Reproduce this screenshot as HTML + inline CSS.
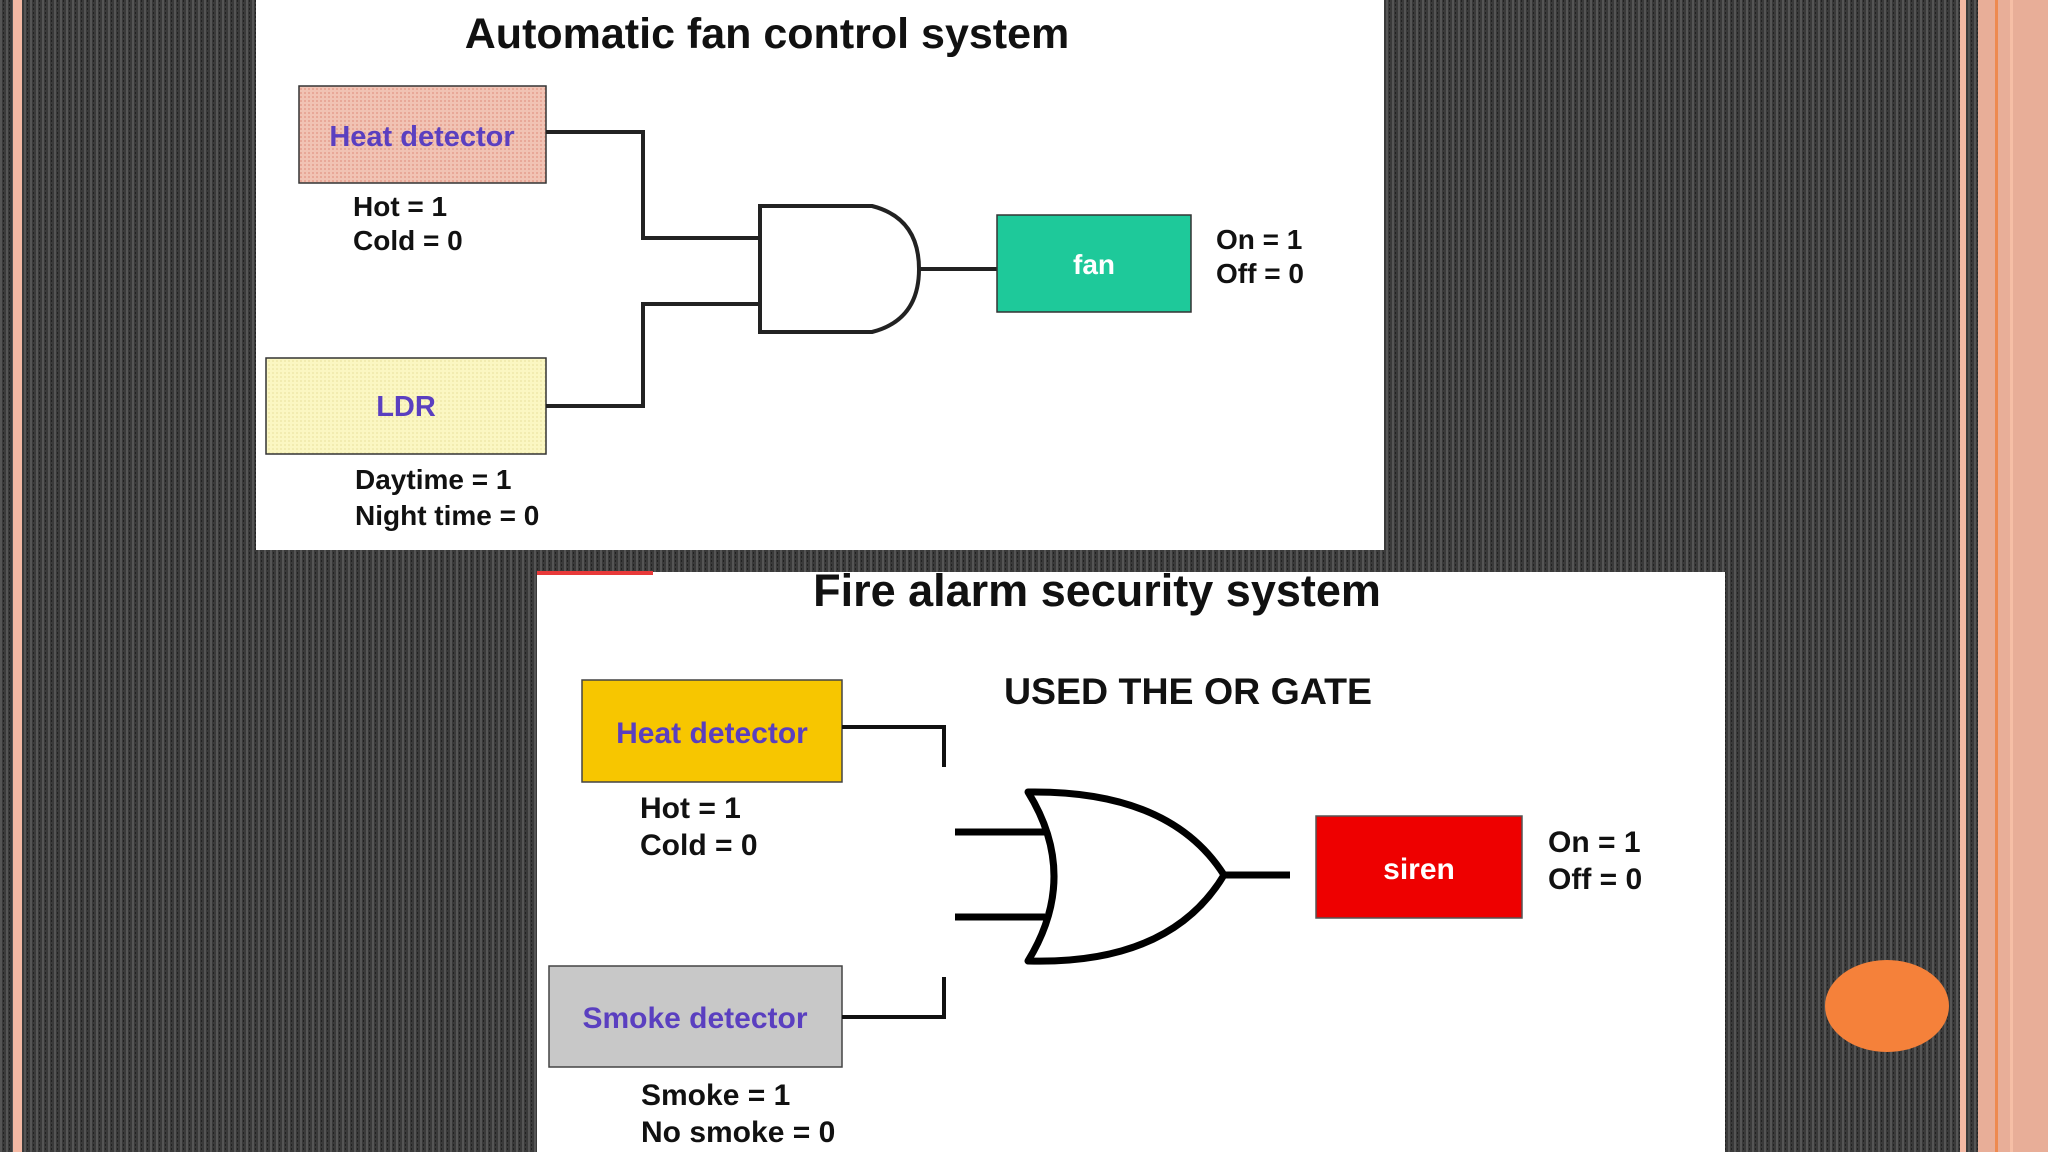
<!DOCTYPE html>
<html><head><meta charset="utf-8"><style>
html,body{margin:0;padding:0;width:2048px;height:1152px;overflow:hidden;background:#3b3b3b}
svg{display:block}
text{font-family:"Liberation Sans",Arial,sans-serif;font-weight:bold}
</style></head><body>
<svg width="2048" height="1152" viewBox="0 0 2048 1152" xmlns="http://www.w3.org/2000/svg">
<defs>
<pattern id="bg" width="6" height="4" patternUnits="userSpaceOnUse">
<rect width="6" height="4" fill="#3a3a3a"/><rect x="0" width="2" height="4" fill="#555"/><rect x="3" y="0" width="1" height="2" fill="#222"/>
</pattern>
<pattern id="pk" width="4" height="4" patternUnits="userSpaceOnUse">
<rect width="4" height="4" fill="#f1c3b4"/><rect width="2" height="2" fill="#e8a898"/></pattern>
<pattern id="yl" width="4" height="4" patternUnits="userSpaceOnUse">
<rect width="4" height="4" fill="#fbf7c2"/><rect width="2" height="2" fill="#f2ecb0"/></pattern>
</defs>
<rect width="2048" height="1152" fill="url(#bg)"/>
<rect x="13" y="0" width="9" height="1152" fill="#f4b9a4"/>
<rect x="1960" y="0" width="6" height="1152" fill="#f4b9a4"/>
<rect x="1978" y="0" width="70" height="1152" fill="#e8ae98"/>
<rect x="1995" y="0" width="3" height="1152" fill="#ee8a50"/>
<rect x="2010" y="0" width="3" height="1152" fill="#f6bfa6"/>

<!-- top panel -->
<rect x="256" y="0" width="1128" height="550" fill="#fff"/>
<text x="767" y="48" font-size="43" text-anchor="middle" fill="#111">Automatic fan control system</text>
<rect x="299" y="86" width="247" height="97" fill="url(#pk)" stroke="#333" stroke-width="1.5"/>
<text x="422" y="146" font-size="29" text-anchor="middle" fill="#5a3fc0">Heat detector</text>
<text x="353" y="216" font-size="28" fill="#111">Hot = 1</text>
<text x="353" y="250" font-size="28" fill="#111">Cold = 0</text>
<rect x="266" y="358" width="280" height="96" fill="url(#yl)" stroke="#333" stroke-width="1.5"/>
<text x="406" y="416" font-size="29" text-anchor="middle" fill="#5a3fc0">LDR</text>
<text x="355" y="489" font-size="28" fill="#111">Daytime = 1</text>
<text x="355" y="525" font-size="28" fill="#111">Night time = 0</text>
<g fill="none" stroke="#222" stroke-width="4">
<polyline points="546,132 643,132 643,238 760,238"/>
<polyline points="546,406 643,406 643,304 760,304"/>
<path d="M760,206 L760,332 L872,332 Q919,320 919,269 Q919,218 872,206 Z"/>
<line x1="919" y1="269" x2="997" y2="269"/>
</g>
<rect x="997" y="215" width="194" height="97" fill="#1ec99a" stroke="#333" stroke-width="1.5"/>
<text x="1094" y="274" font-size="28" text-anchor="middle" fill="#fff">fan</text>
<text x="1216" y="249" font-size="28" fill="#111">On = 1</text>
<text x="1216" y="283" font-size="28" fill="#111">Off = 0</text>

<!-- bottom panel -->
<rect x="537" y="572" width="1188" height="580" fill="#fff"/>
<rect x="537" y="571" width="116" height="4" fill="#e83a3a"/>
<text x="1097" y="606" font-size="45" text-anchor="middle" fill="#111">Fire alarm security system</text>
<text x="1188" y="704" font-size="37.5" text-anchor="middle" fill="#111">USED THE OR GATE</text>
<rect x="582" y="680" width="260" height="102" fill="#f7c600" stroke="#444" stroke-width="1.5"/>
<text x="712" y="743" font-size="30" text-anchor="middle" fill="#5a3fc0">Heat detector</text>
<text x="640" y="818" font-size="30" fill="#111">Hot = 1</text>
<text x="640" y="855" font-size="30" fill="#111">Cold = 0</text>
<rect x="549" y="966" width="293" height="101" fill="#c8c8c8" stroke="#444" stroke-width="1.5"/>
<text x="695" y="1028" font-size="30" text-anchor="middle" fill="#5a3fc0">Smoke detector</text>
<text x="641" y="1105" font-size="30" fill="#111">Smoke = 1</text>
<text x="641" y="1142" font-size="30" fill="#111">No smoke = 0</text>
<g fill="none" stroke="#111" stroke-width="4">
<polyline points="842,727 944,727 944,767"/>
<polyline points="842,1017 944,1017 944,977"/>
</g>
<g fill="none" stroke="#000" stroke-width="7" stroke-linejoin="round">
<line x1="955" y1="832" x2="1045" y2="832"/>
<line x1="955" y1="917" x2="1045" y2="917"/>
<path d="M1028,792 Q1080,876 1028,961 Q1170,965 1224,875 Q1170,790 1028,792 Z"/>
<line x1="1224" y1="875" x2="1290" y2="875"/>
</g>
<rect x="1316" y="816" width="206" height="102" fill="#ee0000" stroke="#555" stroke-width="1.5"/>
<text x="1419" y="879" font-size="30" text-anchor="middle" fill="#fff">siren</text>
<text x="1548" y="852" font-size="30" fill="#111">On = 1</text>
<text x="1548" y="889" font-size="30" fill="#111">Off = 0</text>

<ellipse cx="1887" cy="1006" rx="62" ry="46" fill="#f5813a"/>
</svg>
</body></html>
